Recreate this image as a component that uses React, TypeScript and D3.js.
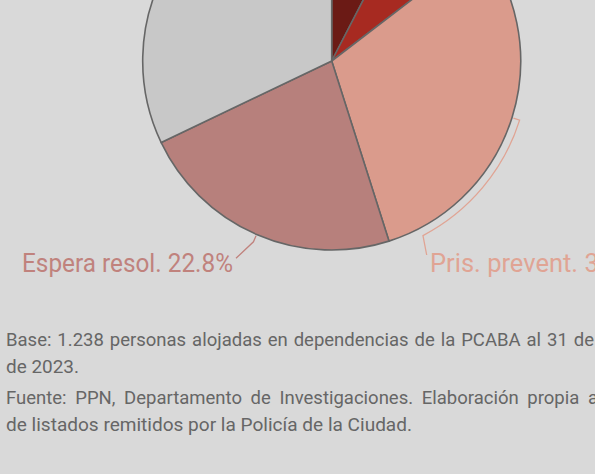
import React, { useEffect, useRef } from "react";
import * as d3 from "d3";

const categories = ["Cat. A", "Cat. B", "Pris. prevent.", "Espera resol.", "Cat. C"];
const values = [7.6, 7.0, 30.5, 22.8, 32.1];
const fills = ["#6b1a15", "#a72a21", "#da9b8c", "#b7807c", "#c8c8c8"];
const labelColors = ["#6b1a15", "#a72a21", "#e0a494", "#c0827d", "#c8c8c8"];
const footLines = [
  "Base: 1.238 personas alojadas en dependencias de la PCABA al 31 de",
  "de 2023.",
  "Fuente: PPN, Departamento de Investigaciones. Elaboración propia a",
  "de listados remitidos por la Policía de la Ciudad.",
];

const W = 595;
const H = 474;
const cx = 331.7;
const cy = 61;
const R = 189;

export default function App() {
  const footRef = useRef<SVGGElement>(null);

  const pie = d3.pie<number>().sort(null).value((d) => d)(values);
  const arc = d3.arc<d3.PieArcDatum<number>>().innerRadius(0).outerRadius(R);

  const labelLayout: Record<number, { bend: number | null; ex: number; ey: number; anchor: string; tx: number }> = {
    2: { bend: 152.4, ex: 426.7 - cx, ey: 255 - cy, anchor: "start", tx: 430 - cx },
    3: { bend: null, ex: 236 - cx, ey: 258.3 - cy, anchor: "end", tx: 233 - cx },
  };

  const pt = (angDeg: number, r: number): [number, number] => {
    const a = (angDeg * Math.PI) / 180;
    return [r * Math.sin(a), -r * Math.cos(a)];
  };

  const footTargets = [588, 73, 592, 406];
  const footBase = [346, 373, 404, 431];

  useEffect(() => {
    const g = footRef.current;
    if (!g) return;
    const texts = g.querySelectorAll("text");
    texts.forEach((t, i) => {
      if (i !== 0 && i !== 2) return;
      const el = t as SVGTextElement;
      el.setAttribute("word-spacing", "0");
      const w = el.getComputedTextLength();
      const spaces = (footLines[i].match(/ /g) || []).length;
      const ws = (footTargets[i] - w) / spaces;
      el.setAttribute("word-spacing", String(ws));
    });
  }, []);

  return (
    <div style={{ position: "absolute", left: 0, top: 0, width: W, height: H }}>
      <svg width={W} height={H} style={{ display: "block", background: "#d9d9d9" }}>
        <rect x={0} y={0} width={W} height={H} fill="#d9d9d9" />
        <g transform={`translate(${cx},${cy})`}>
          {pie.map((p, i) => (
            <path key={categories[i]} d={arc(p) || ""} fill={fills[i]} stroke="#666666" strokeWidth={1.6} strokeLinejoin="round" />
          ))}
          {pie.map((p, i) => {
            const lay = labelLayout[i];
            if (!lay) return null;
            const mid = ((p.startAngle + p.endAngle) / 2) * (180 / Math.PI);
            const [x0, y0] = pt(mid, R + 1.5);
            const [x1, y1] = pt(mid, R + 8);
            let d = `M${x0},${y0}L${x1},${y1}`;
            if (lay.bend !== null) {
              const [x2, y2] = pt(lay.bend, R + 8);
              d += `A${R + 8},${R + 8} 0 0 1 ${x2},${y2}`;
            }
            d += `L${lay.ex},${lay.ey}`;
            const val = values[i].toFixed(1) + "%";
            return (
              <g key={"lab" + i}>
                <path d={d} fill="none" stroke={labelColors[i]} strokeWidth={1.3} />
                <text
                  x={lay.tx}
                  y={272 - cy}
                  textAnchor={lay.anchor}
                  fill={labelColors[i]}
                  fontFamily="Roboto, sans-serif"
                  fontSize={25.5}
                  textLength={i === 3 ? 211 : undefined}
                  lengthAdjust="spacingAndGlyphs"
                >
                  {categories[i]} {val}
                </text>
              </g>
            );
          })}
        </g>
        <g ref={footRef} fontFamily="Roboto, sans-serif" fontSize={18.5} fill="#666666">
          {footLines.map((line, i) => (
            <text
              key={i}
              x={6}
              y={footBase[i]}
              textLength={i === 1 || i === 3 ? footTargets[i] : undefined}
              lengthAdjust="spacingAndGlyphs"
            >
              {line}
            </text>
          ))}
        </g>
      </svg>
    </div>
  );
}
